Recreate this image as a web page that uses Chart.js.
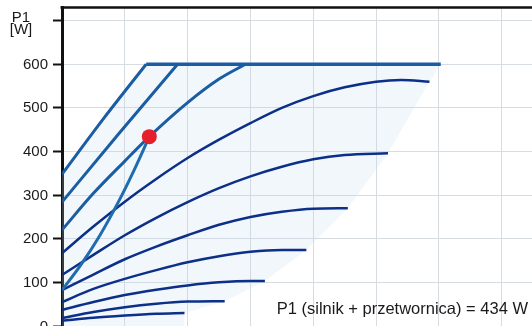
<!DOCTYPE html>
<html>
<head>
<meta charset="utf-8">
<script src="https://cdn.jsdelivr.net/npm/chart.js@4/dist/chart.umd.min.js"></script>
<style>
  html, body { margin: 0; padding: 0; background: #fff; overflow: hidden; }
  #wrap { position: relative; width: 532px; height: 326px; overflow: hidden; }
  canvas { position: absolute; left: 0; top: 0; }
</style>
</head>
<body>
<div id="wrap"><canvas id="c" width="572" height="345"></canvas></div>
<script>
// Power axis ticks [W]
const yTicks = [0, 100, 200, 300, 400, 500, 600, 700];
const yTickLabels = ['0', '100', '200', '300', '400', '500', '600', ''];

// Speed curves that run into the 600 W limit
const cap1Q = [0, 0.67, 1.34];
const cap1P = [348, 477, 600];
const cap2Q = [0, 0.9, 1.84];
const cap2P = [284, 440, 600];
const cap3Q = [0, 0.5, 1, 1.39, 2, 2.5, 2.92];
const cap3P = [220, 304, 378, 434, 512, 566, 600];

// 600 W power limit
const limitQ = [1.34, 6.03];
const limitP = [600, 600];

// Reduced speed curves
const s1Q = [0, 0.5, 1, 1.5, 2, 2.5, 3, 3.5, 4, 4.5, 5, 5.4, 5.85];
const s1P = [167, 228, 285, 337, 385, 427, 465, 500, 527, 547, 560, 564, 560];
const s2Q = [0, 0.5, 1, 1.5, 2, 2.5, 3, 3.5, 4, 4.5, 5.19];
const s2P = [117, 163, 208, 248, 284, 316, 343, 365, 382, 392, 396];
const s3Q = [0, 0.5, 1, 1.5, 2, 2.5, 3, 3.5, 4, 4.55];
const s3P = [82, 118, 153, 182, 208, 232, 250, 262, 269, 270];
const s4Q = [0, 0.5, 1, 1.5, 2, 2.5, 3, 3.5, 3.89];
const s4P = [55, 85, 108, 128, 146, 160, 170, 174, 174];
const s5Q = [0, 0.5, 1, 1.5, 2, 2.5, 3, 3.23];
const s5P = [37, 55, 71, 83, 93, 100, 103, 103];
const s6Q = [0, 0.5, 1, 1.5, 2, 2.59];
const s6P = [18, 32, 43, 51, 56, 57];
const s7Q = [0, 0.5, 1, 1.5, 1.95];
const s7P = [12, 19, 24, 28, 30];

// Control curve up to the duty point
const opQ = [0, 0.3, 0.6, 0.9, 1.15, 1.39];
const opP = [82, 140, 207, 285, 358, 434];

// Duty point
const dutyQ = 1.39;
const dutyP = 434;

// Operating field outline
const envQ = [0, 0, 1.34, 6.03, 5.85, 5.19, 4.55, 3.89, 3.23, 2.59, 1.95, 1.95];
const envP = [0, 348, 600, 600, 560, 396, 270, 174, 103, 57, 30, 0];

const pts = (q, p) => q.map((x, i) => ({ x, y: p[i] }));

const NAVY = '#0c2f88';
const MID = '#1b5da3';
const OP = '#1f6cae';
const GRID = '#d7dce1';
const FONT = "'Liberation Sans', Arial, sans-serif";

const speedCurve = (q, p) => ({
  data: pts(q, p), borderColor: NAVY, borderWidth: 2.5,
  cubicInterpolationMode: 'monotone', pointRadius: 0, fill: false, order: 3
});
const capCurve = (q, p, w) => ({
  data: pts(q, p), borderColor: MID, borderWidth: w,
  cubicInterpolationMode: 'monotone', pointRadius: 0, fill: false, order: 2
});

// light tint of the operating field, placed through the chart scales
const field = {
  id: 'field',
  beforeDatasetsDraw(chart) {
    const { ctx, chartArea: a, scales: { x, y } } = chart;
    ctx.save();
    ctx.beginPath();
    ctx.rect(a.left, a.top, a.right - a.left, a.bottom - a.top);
    ctx.clip();
    ctx.beginPath();
    envQ.forEach((q, i) => {
      const px = x.getPixelForValue(q), py = y.getPixelForValue(envP[i]);
      if (i === 0) ctx.moveTo(px, py); else ctx.lineTo(px, py);
    });
    ctx.closePath();
    ctx.fillStyle = 'rgba(196,220,238,0.22)';
    ctx.fill();
    ctx.restore();
  }
};

const overlay = {
  id: 'overlay',
  afterDraw(chart) {
    const { ctx, chartArea: a, scales: { y } } = chart;
    ctx.save();
    // top frame line
    ctx.strokeStyle = '#111';
    ctx.lineWidth = 2.5;
    ctx.beginPath();
    ctx.moveTo(a.left - 1.5, a.top);
    ctx.lineTo(chart.width, a.top);
    ctx.stroke();

    // power tick labels
    ctx.fillStyle = '#1a1a1a';
    ctx.font = '15px ' + FONT;
    ctx.textAlign = 'right';
    ctx.textBaseline = 'middle';
    yTicks.forEach((v, i) => {
      if (yTickLabels[i]) ctx.fillText(yTickLabels[i], a.left - 14, y.getPixelForValue(v) + 0.5);
    });

    // axis title
    ctx.textAlign = 'center';
    ctx.fillText('P1', 21, 17.5);
    ctx.fillText('[W]', 21, 30);

    // duty point power
    ctx.font = '16.5px ' + FONT;
    ctx.textAlign = 'right';
    ctx.fillText('P1 (silnik + przetwornica) = ' + dutyP + ' W', 528, 309);
    ctx.restore();
  }
};

new Chart(document.getElementById('c'), {
  type: 'line',
  data: {
    datasets: [
      { data: [{ x: dutyQ, y: dutyP }], pointRadius: 7.5, pointBackgroundColor: '#e3202c',
        pointBorderWidth: 0, showLine: false, order: 0 },
      { data: pts(opQ, opP), borderColor: OP, borderWidth: 3, cubicInterpolationMode: 'monotone',
        pointRadius: 0, fill: false, order: 1 },
      capCurve(limitQ, limitP, 3.5),
      capCurve(cap1Q, cap1P, 3),
      capCurve(cap2Q, cap2P, 3),
      capCurve(cap3Q, cap3P, 3),
      speedCurve(s1Q, s1P),
      speedCurve(s2Q, s2P),
      speedCurve(s3Q, s3P),
      speedCurve(s4Q, s4P),
      speedCurve(s5Q, s5P),
      speedCurve(s6Q, s6P),
      speedCurve(s7Q, s7P)
    ]
  },
  options: {
    responsive: false,
    animation: false,
    layout: { padding: { top: 7, left: 0, right: 0, bottom: 19 } },
    plugins: { legend: { display: false }, tooltip: { enabled: false } },
    scales: {
      x: {
        type: 'linear', min: 0, max: 8,
        ticks: { display: false, stepSize: 1 },
        grid: { color: GRID, lineWidth: 1, drawTicks: false },
        border: { display: false },
        afterFit(s) { s.height = 0; }
      },
      y: {
        type: 'linear', min: 0, max: 730,
        afterBuildTicks(s) { s.ticks = yTicks.map(v => ({ value: v })); },
        ticks: { display: false },
        grid: { color: GRID, lineWidth: 1, drawTicks: true, tickLength: 9, tickColor: '#111', tickWidth: 2 },
        border: { color: '#111', width: 3 },
        afterFit(s) { s.width = 62; }
      }
    }
  },
  plugins: [field, overlay]
});
</script>
</body>
</html>
